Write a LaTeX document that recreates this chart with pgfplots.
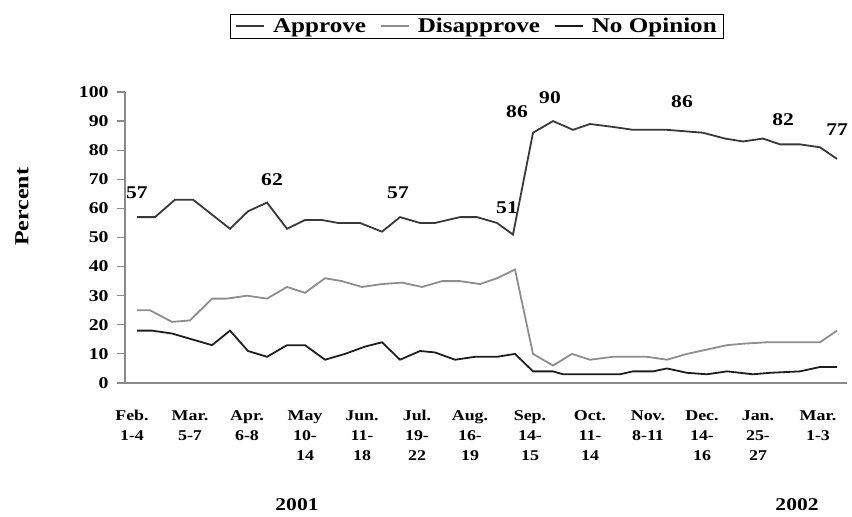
\documentclass[border=0pt]{standalone}
\usepackage{fontspec}
\setmainfont{Liberation Serif}[FakeStretch=1.2]
\usepackage{pgfplots}
\pgfplotsset{compat=1.18}
\definecolor{appr}{HTML}{383838}
\definecolor{disa}{HTML}{8E8E8E}
\definecolor{noop}{HTML}{1E1E1E}
\definecolor{axgray}{HTML}{8A8A8A}
\begin{document}
\begin{tikzpicture}
\useasboundingbox (0,0) rectangle (852bp,517bp);
\begin{axis}[
  at={(125bp,134bp)}, anchor=south west,
  width=722bp, height=291bp, scale only axis,
  xmin=125, xmax=847, ymin=0, ymax=100,
  axis x line*=bottom, axis y line*=left,
  axis line style={draw=axgray, line width=2.5bp, -},
  ytick={0,10,...,100},
  ytick style={draw=axgray, line width=1.2bp},
  tick align=outside, major tick length=8bp,
  xtick={132,190,247,305,362,417,470,530,590,648,702,758,818},
  xtick style={draw=none},
  xticklabels={{Feb.\\1-4},{Mar.\\5-7},{Apr.\\6-8},{May\\10-\\14},{Jun.\\11-\\18},{Jul.\\19-\\22},{Aug.\\16-\\19},{Sep.\\14-\\15},{Oct.\\11-\\14},{Nov.\\8-11},{Dec.\\14-\\16},{Jan.\\25-\\27},{Mar.\\1-3}},
  xticklabel style={align=center, anchor=north, yshift=-16bp, font=\bfseries\fontsize{15}{20}\selectfont},
  yticklabel style={xshift=-5bp, font=\bfseries\fontsize{16.5}{20}\selectfont},
  /pgf/number format/assume math mode=true,
  clip=false,
  legend columns=3,
  legend style={at={(0.4875,1.227)}, anchor=center, draw=black, line width=0.8bp,
    font=\bfseries\fontsize{21}{24}\selectfont, inner xsep=5bp, inner ysep=2bp,
    /tikz/every odd column/.append style={column sep=6bp},
    /tikz/every even column/.append style={column sep=12bp}},
  legend image code/.code={\draw[#1] (0bp,0bp) -- (28bp,0bp);},
]
\addplot[appr, line width=1.8bp] coordinates {
(137,57)(155,57)(175,63)(193,63)(230,53)(248,59)(267,62)(287,53)(305,56)(322,56)(338,55)(360,55)(382,52)(400,57)(420,55)(435,55)(460,57)(477,57)(497,55)(513,51)(533,86)(553,90)(573,87)(590,89)(613,88)(633,87)(667,87)(703,86)(725,84)(743,83)(763,84)(780,82)(800,82)(820,81)(837,77)};
\addlegendentry{Approve}
\addplot[disa, line width=1.8bp] coordinates {
(137,25)(150,25)(172,21)(190,21.5)(212,29)(227,29)(247,30)(267,29)(287,33)(305,31)(325,36)(342,35)(362,33)(382,34)(402,34.5)(422,33)(442,35)(460,35)(480,34)(497,36)(515,39)(533,10)(553,6)(572,10)(590,8)(613,9)(647,9)(667,8)(687,10)(707,11.5)(727,13)(743,13.5)(767,14)(783,14)(820,14)(837,18)};
\addlegendentry{Disapprove}
\addplot[noop, line width=1.8bp] coordinates {
(137,18)(152,18)(172,17)(192,15)(212,13)(230,18)(248,11)(267,9)(287,13)(305,13)(325,8)(345,10)(365,12.5)(382,14)(400,8)(420,11)(435,10.5)(455,8)(475,9)(497,9)(515,10)(533,4)(553,4)(563,3)(620,3)(633,4)(653,4)(667,5)(687,3.5)(707,3)(727,4)(753,3)(770,3.5)(800,4)(820,5.5)(837,5.5)};
\addlegendentry{No Opinion}
\begin{scope}[every node/.style={font=\bfseries\fontsize{18}{20}\selectfont, inner sep=0pt}]
\node at (axis cs:137,65.3) {57};
\node at (axis cs:272,69.8) {62};
\node at (axis cs:398,65.3) {57};
\node at (axis cs:507,60.1) {51};
\node at (axis cs:517,93.1) {86};
\node at (axis cs:550,97.9) {90};
\node at (axis cs:682,96.6) {86};
\node at (axis cs:783,90.4) {82};
\node at (axis cs:837,87) {77};
\node at (axis cs:297,-41.9) {2001};
\node at (axis cs:797,-41.9) {2002};
\node[rotate=90, font=\bfseries\fontsize{20}{22}\selectfont] at (axis cs:22,60.5) {Percent};
\end{scope}
\end{axis}
\end{tikzpicture}
\end{document}
